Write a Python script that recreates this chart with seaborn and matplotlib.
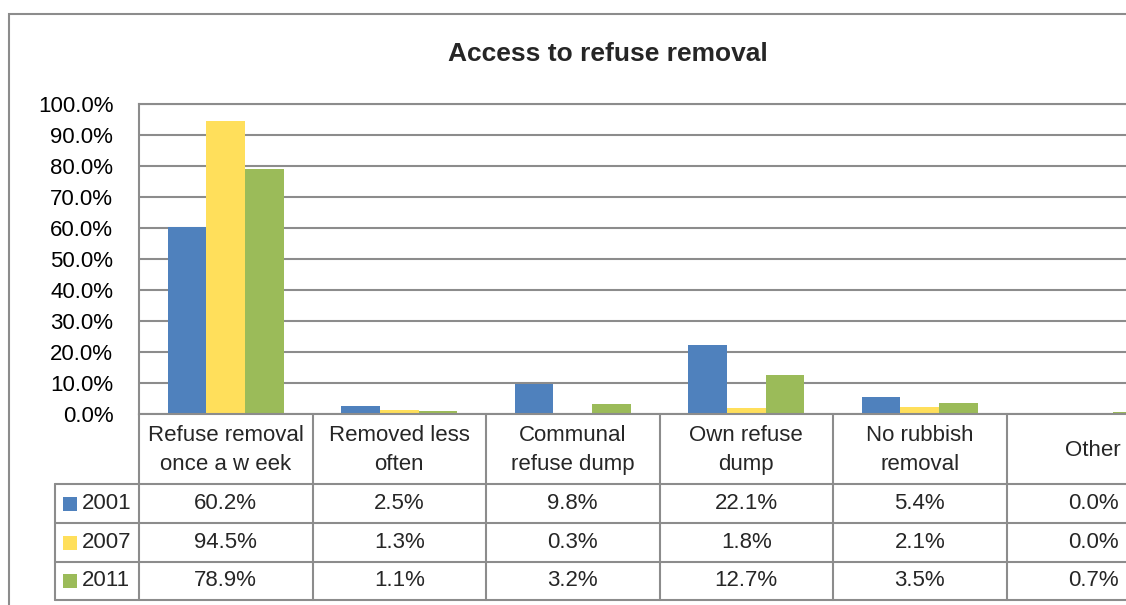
import pandas as pd
import seaborn as sns
import matplotlib.pyplot as plt
from matplotlib.ticker import PercentFormatter, MultipleLocator
from matplotlib.transforms import blended_transform_factory
from matplotlib.patches import Rectangle

categories = ["Refuse removal\nonce a w eek", "Removed less\noften", "Communal\nrefuse dump",
              "Own refuse\ndump", "No rubbish\nremoval", "Other"]
years = ["2001", "2007", "2011"]
share_2001 = [60.2, 2.5, 9.8, 22.1, 5.4, 0.0]
share_2007 = [94.5, 1.3, 0.3, 1.8, 2.1, 0.0]
share_2011 = [78.9, 1.1, 3.2, 12.7, 3.5, 0.7]
colors = ["#4F81BD", "#FFDF5B", "#9BBB59"]

series = [share_2001, share_2007, share_2011]
rows = []
for year, vals in zip(years, series):
    for cat, v in zip(categories, vals):
        rows.append({"category": cat, "year": year, "share": v / 100})
df = pd.DataFrame(rows)

sns.set_style("white")
plt.rcParams["font.family"] = ["Liberation Sans Narrow", "Liberation Sans", "DejaVu Sans"]

W, H = 1126, 605
gray = "#8c8c8c"
fs = 16


def fx(px):
    return px / W


def fy(py):
    return 1 - py / H


fig = plt.figure(figsize=(W / 100, H / 100), dpi=100)

# plot area runs past the right edge, like the cropped original
ax = fig.add_axes([fx(139), fy(414), fx(1180) - fx(139), fy(104) - fy(414)])
sns.barplot(data=df, x="category", y="share", hue="year", order=categories,
            hue_order=years, palette=colors, saturation=1, width=3 / 4.5,
            linewidth=0, legend=False, ax=ax)

ax.yaxis.set_major_locator(MultipleLocator(0.1))
ax.yaxis.set_major_formatter(PercentFormatter(1, decimals=1))
ax.grid(axis="y", color=gray, linewidth=1.5)
ax.set_axisbelow(True)
for s in ["top", "left", "bottom"]:
    ax.spines[s].set_color(gray)
    ax.spines[s].set_linewidth(1.5)
ax.spines["right"].set_visible(False)
ax.tick_params(axis="y", length=6.5, width=1.5, color=gray, pad=12, labelsize=fs,
               labelcolor="black")
ax.set_xticks([])
ax.set_xlabel("")
ax.set_ylabel("")

# data table under the axis
trans = blended_transform_factory(ax.transData, fig.transFigure)
cat_w = 173.5
leg_left = -0.5 - (139 - 55) / cat_w
n = len(categories)
line_kw = dict(color=gray, linewidth=1.5, transform=trans, clip_on=False)
for i in range(n + 1):
    ax.plot([-0.5 + i, -0.5 + i], [fy(414), fy(600)], **line_kw)
ax.plot([leg_left, leg_left], [fy(484), fy(600)], **line_kw)
for py in [484, 523, 562, 600]:
    ax.plot([leg_left, n + 0.5], [fy(py), fy(py)], **line_kw)

for i, cat in enumerate(categories):
    ax.text(i, fy(450), cat, transform=trans, ha="center", va="center",
            fontsize=fs, linespacing=1.5)

row_centers = [503.5, 542.5, 581]
for year, vals, col, yc in zip(years, series, colors, row_centers):
    fig.add_artist(Rectangle((fx(63), fy(yc + 7)), 14 / W, 14 / H,
                             facecolor=col, edgecolor="none"))
    fig.text(fx(82), fy(yc), year, ha="left", va="center", fontsize=fs)
    for i, v in enumerate(vals):
        ax.text(i, fy(yc), f"{v:.1f}%", transform=trans, ha="center",
                va="center", fontsize=fs)

ax.set_xlim(-0.5, n - 0.5)
ax.set_ylim(0, 1)

fig.text(fx(608), fy(54), "Access to refuse removal", ha="center", va="center",
         fontsize=19, fontweight="bold")

# chart border (cut by the crop on the right and bottom)
fig.add_artist(Rectangle((fx(9), -0.1), 2, fy(14) + 0.1, fill=False,
                         edgecolor=gray, linewidth=1.5))

fig.savefig("out.png", dpi=100)
